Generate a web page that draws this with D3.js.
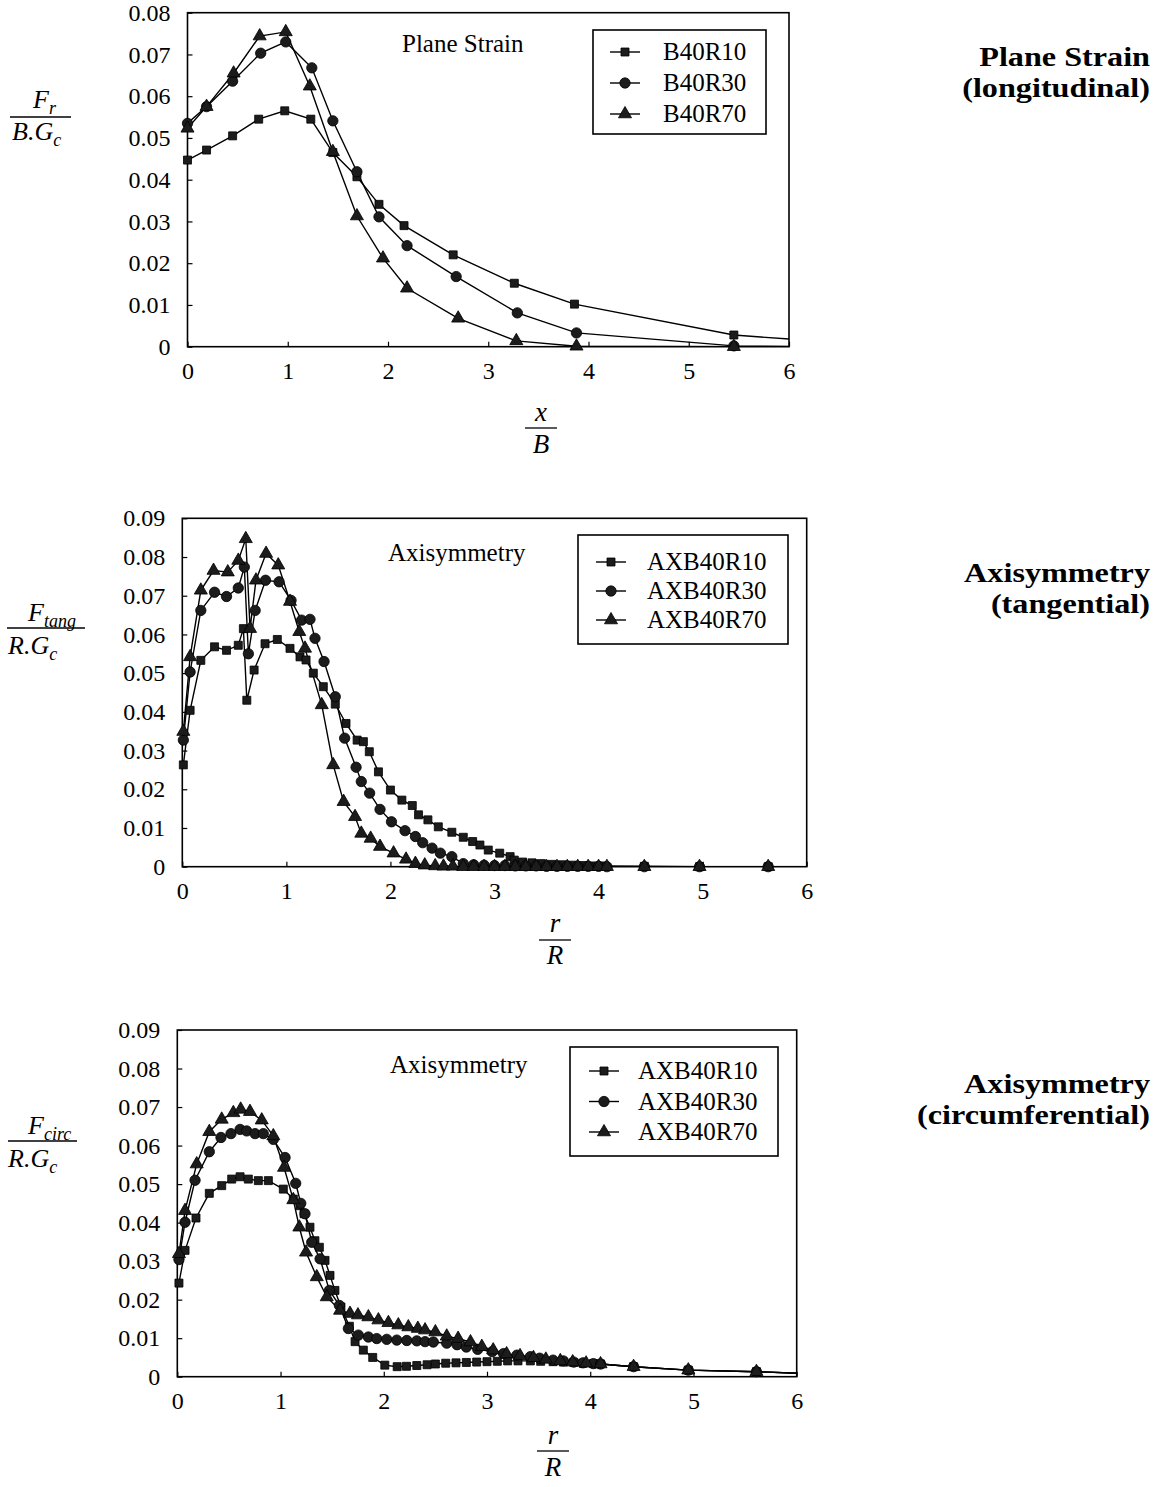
<!DOCTYPE html>
<html>
<head>
<meta charset="utf-8">
<script src="https://cdn.jsdelivr.net/npm/d3@7/dist/d3.min.js"></script>
<style>
  html, body { margin: 0; padding: 0; background: #fff; }
  svg { display: block; }
  text { font-family: "Liberation Serif", "Times New Roman", serif; fill: #000; }
</style>
</head>
<body>
<script>
// ---------- tick values ----------
const xTickValues = [0, 1, 2, 3, 4, 5, 6];
const yTicksPlane = [0, 0.01, 0.02, 0.03, 0.04, 0.05, 0.06, 0.07, 0.08];
const yTicksAxi = [0, 0.01, 0.02, 0.03, 0.04, 0.05, 0.06, 0.07, 0.08, 0.09];

// ---------- series names ----------
const namesPlane = ["B40R10", "B40R30", "B40R70"];
const namesAxi = ["AXB40R10", "AXB40R30", "AXB40R70"];

// ---------- plane strain, longitudinal force  [x/B, Fr/(B.Gc)] ----------
const planeR10 = [[0,0.0447],[0.19,0.0471],[0.45,0.0505],[0.71,0.0545],[0.97,0.0565],[1.23,0.0545],[1.45,0.0465],[1.69,0.0407],[1.91,0.0341],[2.16,0.029],[2.65,0.022],[3.26,0.0152],[3.86,0.0102],[5.45,0.0028],[6.3,0.0013]];
const planeR30 = [[0,0.0535],[0.19,0.0575],[0.45,0.0636],[0.73,0.0703],[0.98,0.073],[1.24,0.0668],[1.45,0.0541],[1.69,0.0419],[1.91,0.0311],[2.19,0.0242],[2.68,0.0168],[3.29,0.0081],[3.88,0.0033],[5.45,0.0002],[6.3,0]];
const planeR70 = [[0,0.0523],[0.19,0.0575],[0.46,0.0655],[0.72,0.0744],[0.98,0.0754],[1.22,0.0624],[1.45,0.0467],[1.69,0.0313],[1.95,0.0212],[2.19,0.014],[2.7,0.0068],[3.28,0.0014],[3.88,0.0001],[5.45,0],[6.3,0]];

// ---------- axisymmetry, tangential force  [r/R, Ftang/(R.Gc)] ----------
const tangR10 = [[0.01,0.0263],[0.075,0.0404],[0.178,0.0533],[0.31,0.0568],[0.425,0.0559],[0.538,0.0572],[0.587,0.0615],[0.62,0.043],[0.69,0.0508],[0.795,0.0576],[0.913,0.0587],[1.035,0.0564],[1.131,0.0542],[1.189,0.0534],[1.259,0.05],[1.355,0.0465],[1.47,0.042],[1.573,0.037],[1.68,0.0327],[1.74,0.0323],[1.797,0.0297],[1.885,0.0245],[2.0,0.0198],[2.11,0.0172],[2.21,0.0158],[2.27,0.0134],[2.36,0.0121],[2.46,0.0103],[2.59,0.0089],[2.7,0.0076],[2.79,0.0065],[2.86,0.0056],[2.94,0.0043],[3.05,0.0035],[3.15,0.0026],[3.19,0.0017],[3.27,0.0012],[3.36,0.001],[3.45,0.0008],[3.55,0.0006],[3.65,0.0005],[3.75,0.0004],[3.85,0.0003],[3.95,0.0002],[4.05,0.0002],[4.44,0.0001],[4.97,0],[5.63,0],[6.3,0]];
const tangR30 = [[0.01,0.0327],[0.075,0.0503],[0.178,0.0662],[0.31,0.0709],[0.425,0.0698],[0.538,0.072],[0.596,0.0774],[0.635,0.055],[0.7,0.0662],[0.8,0.074],[0.93,0.0736],[1.045,0.0688],[1.147,0.0637],[1.227,0.0639],[1.275,0.059],[1.362,0.053],[1.47,0.0439],[1.56,0.0332],[1.67,0.0257],[1.72,0.022],[1.8,0.019],[1.9,0.0148],[2.01,0.0116],[2.14,0.0093],[2.24,0.0078],[2.31,0.0062],[2.4,0.0048],[2.48,0.0035],[2.59,0.0026],[2.7,0.0008],[2.8,0.0005],[2.9,0.0004],[3.0,0.0003],[3.1,0.0003],[3.2,0.0002],[3.3,0.0002],[3.4,0.0002],[3.5,0.0001],[3.6,0.0001],[3.7,0.0001],[3.8,0.0001],[3.9,0.0001],[4.0,0.0001],[4.08,0],[4.44,0],[4.97,0],[5.63,0],[6.3,0]];
const tangR70 = [[0.01,0.0349],[0.075,0.0542],[0.178,0.0714],[0.3,0.0765],[0.437,0.0761],[0.538,0.0791],[0.61,0.0847],[0.651,0.0615],[0.708,0.074],[0.805,0.0809],[0.922,0.0779],[1.035,0.0685],[1.124,0.0607],[1.179,0.0564],[1.34,0.0418],[1.45,0.0263],[1.55,0.0168],[1.66,0.0129],[1.72,0.0086],[1.81,0.0073],[1.9,0.0052],[2.03,0.0035],[2.15,0.0019],[2.24,0.0008],[2.33,0.0004],[2.43,0.0002],[2.51,0.0001],[2.6,0.0001],[2.7,0],[2.8,0],[2.9,0],[3.0,0],[3.1,0],[3.2,0],[3.3,0],[3.4,0],[3.5,0],[3.6,0],[3.7,0],[3.8,0],[3.9,0],[4.0,0],[4.08,0],[4.44,0],[4.97,0],[5.63,0],[6.3,0]];

// ---------- axisymmetry, circumferential force  [r/R, Fcirc/(R.Gc)] ----------
const circR10 = [[0.016,0.0243],[0.075,0.0328],[0.181,0.0412],[0.31,0.0476],[0.43,0.0496],[0.527,0.0513],[0.608,0.0519],[0.688,0.0513],[0.785,0.0509],[0.882,0.0509],[1.027,0.0487],[1.124,0.0461],[1.189,0.0444],[1.228,0.0423],[1.285,0.0388],[1.333,0.0353],[1.376,0.0336],[1.431,0.0302],[1.479,0.0263],[1.527,0.0224],[1.585,0.0181],[1.667,0.0131],[1.722,0.0091],[1.802,0.0069],[1.893,0.005],[2.01,0.003],[2.13,0.0026],[2.22,0.0027],[2.32,0.0029],[2.42,0.0031],[2.5,0.0033],[2.6,0.0035],[2.7,0.0036],[2.8,0.0037],[2.9,0.0038],[3.0,0.0039],[3.1,0.004],[3.2,0.0041],[3.3,0.0041],[3.42,0.0041],[3.52,0.004],[3.64,0.0039],[3.74,0.0038],[3.84,0.0037],[3.93,0.0035],[4.03,0.0034],[4.1,0.0033],[4.42,0.0026],[4.95,0.0017],[5.61,0.0013],[6.3,0.0006]];
const circR30 = [[0.016,0.0304],[0.075,0.0401],[0.172,0.051],[0.31,0.0584],[0.423,0.0621],[0.52,0.0631],[0.608,0.0642],[0.672,0.0638],[0.753,0.0631],[0.833,0.0631],[0.93,0.0616],[1.044,0.0569],[1.147,0.0502],[1.196,0.045],[1.237,0.0423],[1.302,0.0349],[1.383,0.0306],[1.473,0.0224],[1.57,0.0185],[1.657,0.0125],[1.754,0.0108],[1.851,0.0103],[1.932,0.0099],[2.029,0.0097],[2.126,0.0095],[2.223,0.0094],[2.32,0.0093],[2.4,0.0091],[2.48,0.009],[2.61,0.0087],[2.71,0.0083],[2.8,0.0077],[2.91,0.0071],[3.05,0.0065],[3.16,0.006],[3.29,0.0056],[3.42,0.0052],[3.51,0.0048],[3.64,0.0043],[3.74,0.0041],[3.84,0.0038],[3.93,0.0036],[4.03,0.0034],[4.1,0.0033],[4.42,0.0026],[4.95,0.0017],[5.61,0.0013],[6.3,0.0006]];
const circR70 = [[0.016,0.0319],[0.075,0.0431],[0.188,0.0552],[0.31,0.0636],[0.43,0.0668],[0.543,0.0685],[0.614,0.0694],[0.704,0.0688],[0.818,0.0666],[0.93,0.0625],[1.034,0.0543],[1.124,0.0459],[1.182,0.0388],[1.247,0.0323],[1.351,0.0259],[1.448,0.0207],[1.577,0.0172],[1.673,0.0164],[1.75,0.016],[1.851,0.0155],[1.948,0.0147],[2.045,0.014],[2.141,0.0134],[2.238,0.0129],[2.33,0.0125],[2.4,0.0121],[2.5,0.0116],[2.61,0.0105],[2.72,0.0099],[2.84,0.009],[2.95,0.0078],[3.06,0.0069],[3.19,0.0059],[3.32,0.0054],[3.45,0.0049],[3.57,0.0045],[3.71,0.0041],[3.83,0.0038],[3.96,0.0035],[4.1,0.0033],[4.42,0.0026],[4.95,0.0017],[5.61,0.0013],[6.3,0.0006]];

// ---------- drawing ----------
const W = 1165, H = 1487;
const svg = d3.select("body").append("svg").attr("width", W).attr("height", H);

const symbolTypes = [d3.symbolSquare, d3.symbolCircle, d3.symbolTriangle];
const symbolSizes = [64, 84, 74];
const fmtTick = d => d === 0 ? "0" : d.toFixed(2);
const FONT = '"Liberation Serif", "Times New Roman", serif';

function marker(sel, k) {
  sel.attr("d", d3.symbol().type(symbolTypes[k]).size(symbolSizes[k])())
    .attr("fill", "#1c1c1c").attr("stroke", "#000").attr("stroke-width", 0.8);
}

function drawPanel(p, idx) {
  const g = svg.append("g");
  const x = d3.scaleLinear().domain([0, 6]).range([p.left, p.right]);
  const y = d3.scaleLinear().domain([0, p.yMax]).range([p.bottom, p.top]);

  const clipId = "clip" + idx;
  g.append("clipPath").attr("id", clipId).append("rect")
    .attr("x", p.left).attr("y", p.top - 20)
    .attr("width", p.right - p.left).attr("height", p.bottom - p.top + 20);

  // axes with inward ticks
  const yAxis = d3.axisLeft(y).tickValues(p.yTicks).tickFormat(fmtTick)
    .tickSizeInner(-5).tickSizeOuter(0).tickPadding(17);
  const gy = g.append("g").attr("transform", `translate(${p.left},0)`).call(yAxis);
  const xAxis = d3.axisBottom(x).tickValues(xTickValues).tickFormat(d3.format("d"))
    .tickSizeInner(-5).tickSizeOuter(0).tickPadding(15);
  const gx = g.append("g").attr("transform", `translate(0,${p.bottom})`).call(xAxis);
  [gx, gy].forEach(a => {
    a.select(".domain").remove();
    a.selectAll(".tick line").attr("stroke", "#000").attr("stroke-width", 1.2);
    a.selectAll(".tick text").attr("font-family", FONT).attr("font-size", 24).attr("fill", "#000");
  });

  // plot frame
  g.append("rect").attr("x", p.left).attr("y", p.top)
    .attr("width", p.right - p.left).attr("height", p.bottom - p.top)
    .attr("fill", "none").attr("stroke", "#000").attr("stroke-width", 1.6);

  const line = d3.line().x(d => x(d[0])).y(d => y(d[1]));
  p.series.forEach((s, k) => {
    g.append("path").datum(s).attr("d", line)
      .attr("fill", "none").attr("stroke", "#000").attr("stroke-width", 1.4)
      .attr("clip-path", `url(#${clipId})`);
  });
  p.series.forEach((s, k) => {
    g.selectAll(null).data(s.filter(d => d[0] <= 6)).enter().append("path")
      .attr("transform", d => `translate(${x(d[0])},${y(d[1])})`)
      .call(marker, k);
  });

  // annotation inside plot
  g.append("text").attr("x", p.note[0]).attr("y", p.note[1])
    .attr("font-size", 25).text(p.noteText);

  // legend
  const L = p.legend;
  g.append("rect").attr("x", L.x).attr("y", L.y).attr("width", L.w).attr("height", L.h)
    .attr("fill", "#fff").attr("stroke", "#000").attr("stroke-width", 1.6);
  p.names.forEach((n, k) => {
    const cy = L.y + L.first + k * L.step;
    g.append("line").attr("x1", L.sx - 15).attr("x2", L.sx + 15).attr("y1", cy).attr("y2", cy)
      .attr("stroke", "#000").attr("stroke-width", 1.4);
    g.append("path").attr("transform", `translate(${L.sx},${cy})`).call(marker, k);
    g.append("text").attr("x", L.tx).attr("y", cy + 8).attr("font-size", 25).text(n);
  });

  // y label as a fraction
  const Y = p.ylab;
  const t1 = g.append("text").attr("x", Y.nx).attr("y", Y.ny).attr("font-size", 26).attr("font-style", "italic");
  t1.append("tspan").text("F");
  t1.append("tspan").attr("dy", 6).attr("font-size", 18).text(Y.sub);
  g.append("line").attr("x1", Y.l1).attr("x2", Y.l2).attr("y1", Y.ly).attr("y2", Y.ly)
    .attr("stroke", "#000").attr("stroke-width", 1.3);
  const t2 = g.append("text").attr("x", Y.dx).attr("y", Y.dy).attr("font-size", 26).attr("font-style", "italic");
  t2.append("tspan").text(Y.den);
  t2.append("tspan").attr("dy", 6).attr("font-size", 18).text("c");

  // x label as a fraction
  const X = p.xlab;
  g.append("text").attr("x", X.cx).attr("y", X.ny).attr("text-anchor", "middle")
    .attr("font-size", 27).attr("font-style", "italic").text(X.num);
  g.append("line").attr("x1", X.cx - 16).attr("x2", X.cx + 16).attr("y1", X.ly).attr("y2", X.ly)
    .attr("stroke", "#000").attr("stroke-width", 1.3);
  g.append("text").attr("x", X.cx).attr("y", X.dy).attr("text-anchor", "middle")
    .attr("font-size", 27).attr("font-style", "italic").text(X.den);

  // panel title on the right, slightly widened bold type
  p.title.forEach((t, k) => {
    g.append("text").attr("transform", `translate(1150,${p.titleY + k * 31}) scale(1.15,1)`)
      .attr("text-anchor", "end")
      .attr("font-size", 28).attr("font-weight", "bold").text(t);
  });
}

const panels = [
  {
    left: 187.5, right: 789, top: 12.7, bottom: 346.7, yMax: 0.08, yTicks: yTicksPlane,
    series: [planeR10, planeR30, planeR70], names: namesPlane,
    note: [402, 52], noteText: "Plane Strain",
    legend: { x: 593, y: 30, w: 173, h: 104, first: 22, step: 31, sx: 625, tx: 663 },
    ylab: { nx: 33, ny: 108, sub: "r", l1: 10, l2: 71, ly: 117, dx: 12, dy: 140, den: "B.G" },
    xlab: { cx: 541, ny: 421, ly: 428, dy: 453, num: "x", den: "B" },
    title: ["Plane Strain", "(longitudinal)"], titleY: 66
  },
  {
    left: 182.3, right: 806.7, top: 518.3, bottom: 866.7, yMax: 0.09, yTicks: yTicksAxi,
    series: [tangR10, tangR30, tangR70], names: namesAxi,
    note: [388, 561], noteText: "Axisymmetry",
    legend: { x: 578, y: 535, w: 210, h: 109, first: 27, step: 29, sx: 611, tx: 647 },
    ylab: { nx: 28, ny: 621, sub: "tang", l1: 7, l2: 85, ly: 628, dx: 8, dy: 654, den: "R.G" },
    xlab: { cx: 555, ny: 932, ly: 940, dy: 964, num: "r", den: "R" },
    title: ["Axisymmetry", "(tangential)"], titleY: 582
  },
  {
    left: 177.3, right: 796.7, top: 1030, bottom: 1376.7, yMax: 0.09, yTicks: yTicksAxi,
    series: [circR10, circR30, circR70], names: namesAxi,
    note: [390, 1073], noteText: "Axisymmetry",
    legend: { x: 570, y: 1047, w: 208, h: 109, first: 24, step: 30.5, sx: 604, tx: 638 },
    ylab: { nx: 28, ny: 1134, sub: "circ", l1: 8, l2: 77, ly: 1141, dx: 8, dy: 1167, den: "R.G" },
    xlab: { cx: 553, ny: 1444, ly: 1451, dy: 1476, num: "r", den: "R" },
    title: ["Axisymmetry", "(circumferential)"], titleY: 1093
  }
];

panels.forEach(drawPanel);
</script>
</body>
</html>
